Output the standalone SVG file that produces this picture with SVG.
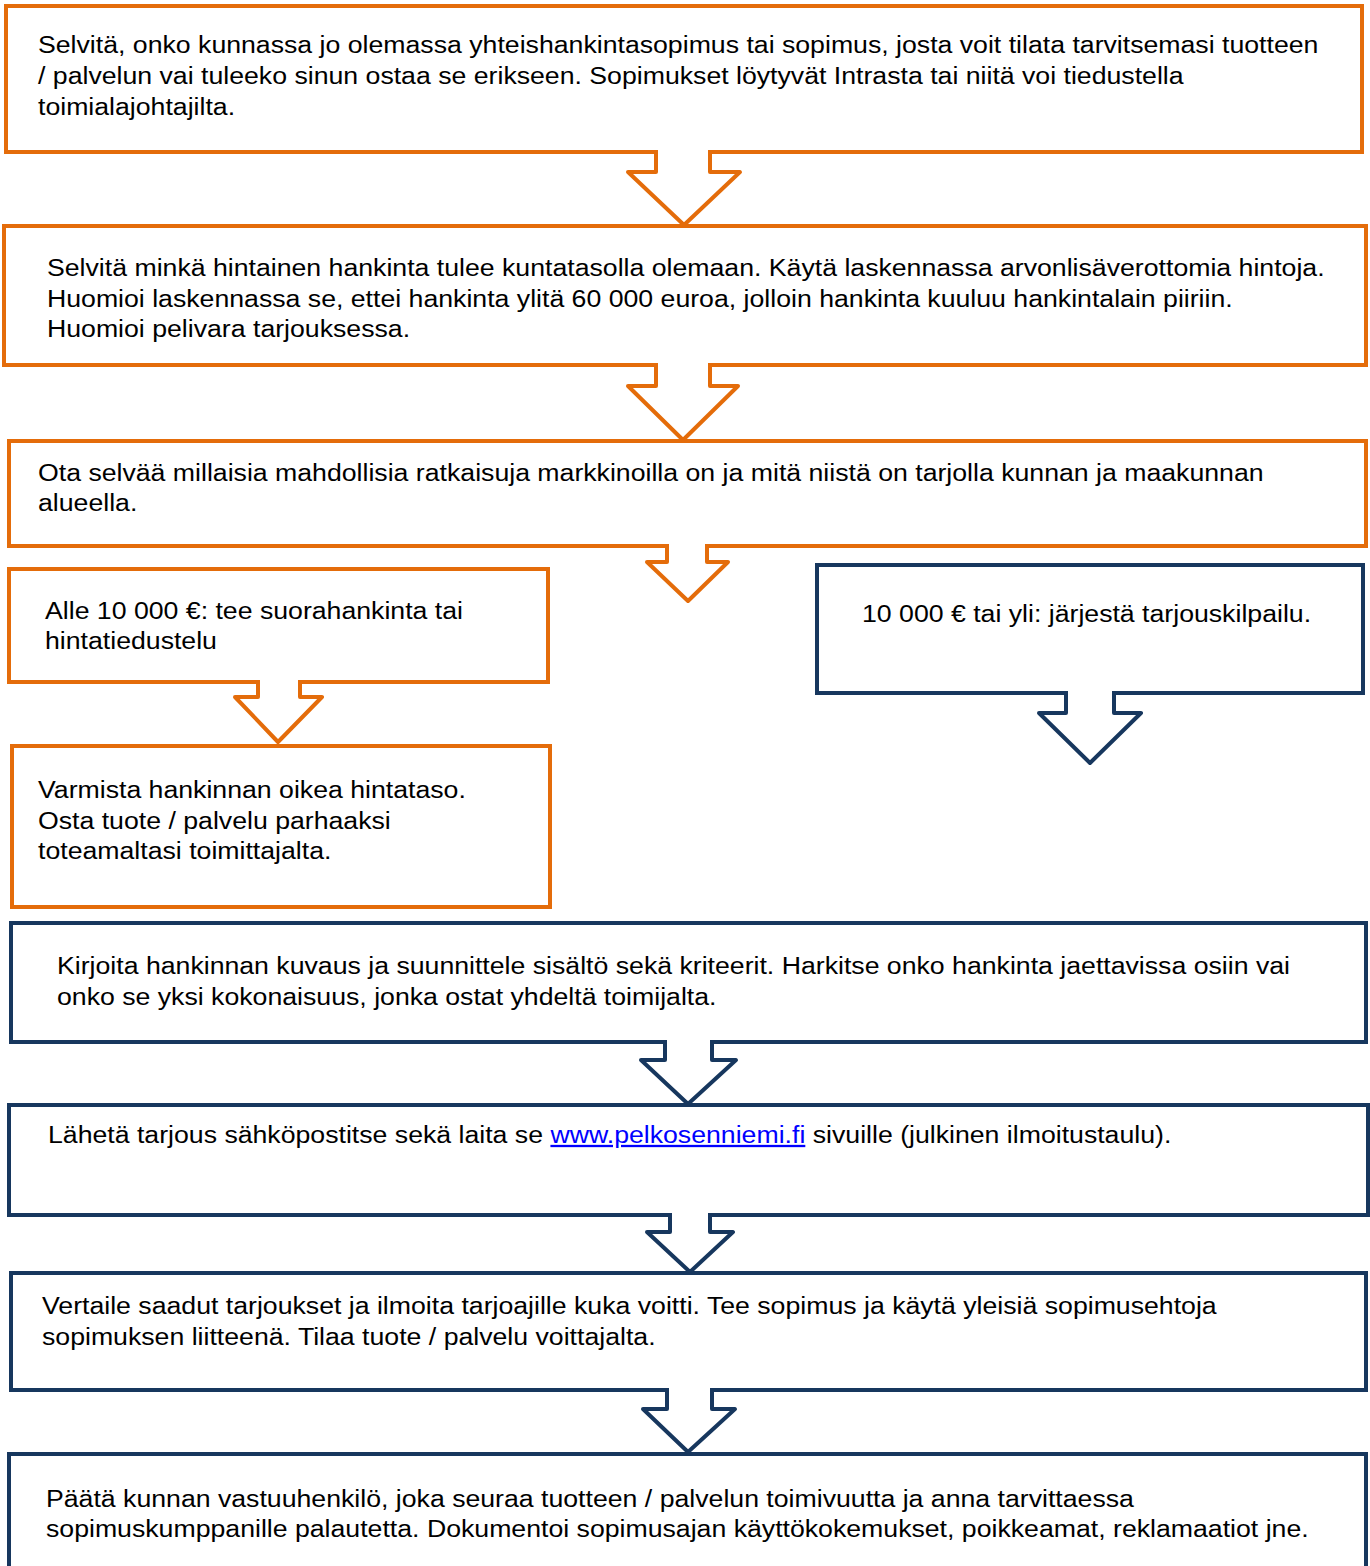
<svg xmlns="http://www.w3.org/2000/svg" width="1370" height="1566" viewBox="0 0 1370 1566">
<style>
.o{fill:#fff;stroke:#E46C0A;stroke-width:4}
.n{fill:#fff;stroke:#17375E;stroke-width:4}
.ao{fill:#fff;stroke:#E46C0A;stroke-width:4;stroke-linejoin:round}
.an{fill:#fff;stroke:#17375E;stroke-width:4;stroke-linejoin:round}
text{font-family:"Liberation Sans",Arial,sans-serif;font-size:23px;fill:#000}
.lnk{fill:#0000FF;text-decoration:underline}
</style>
<rect width="1370" height="1566" fill="#fff"/>
<g id="n1"><rect class="o" x="6" y="6" width="1356" height="146"/>
<text transform="translate(38 53) scale(1.16 1)">Selvitä, onko kunnassa jo olemassa yhteishankintasopimus tai sopimus, josta voit tilata tarvitsemasi tuotteen</text>
<text transform="translate(38 84) scale(1.16 1)">/ palvelun vai tuleeko sinun ostaa se erikseen. Sopimukset löytyvät Intrasta tai niitä voi tiedustella</text>
<text transform="translate(38 115) scale(1.16 1)">toimialajohtajilta.</text></g>
<g id="n2"><rect class="o" x="4" y="226" width="1362" height="139"/>
<text transform="translate(47 276) scale(1.16 1)">Selvitä minkä hintainen hankinta tulee kuntatasolla olemaan. Käytä laskennassa arvonlisäverottomia hintoja.</text>
<text transform="translate(47 307) scale(1.16 1)">Huomioi laskennassa se, ettei hankinta ylitä 60 000 euroa, jolloin hankinta kuuluu hankintalain piiriin.</text>
<text transform="translate(47 337) scale(1.16 1)">Huomioi pelivara tarjouksessa.</text></g>
<g id="n3"><rect class="o" x="9" y="441" width="1357" height="105"/>
<text transform="translate(38 481) scale(1.16 1)">Ota selvää millaisia mahdollisia ratkaisuja markkinoilla on ja mitä niistä on tarjolla kunnan ja maakunnan</text>
<text transform="translate(38 511) scale(1.16 1)">alueella.</text></g>
<g id="n4"><rect class="o" x="9" y="569" width="539" height="113"/>
<text transform="translate(45 619) scale(1.16 1)">Alle 10 000 €: tee suorahankinta tai</text>
<text transform="translate(45 649) scale(1.16 1)">hintatiedustelu</text></g>
<g id="n5"><rect class="o" x="12" y="746" width="538" height="161"/>
<text transform="translate(38 798) scale(1.16 1)">Varmista hankinnan oikea hintataso.</text>
<text transform="translate(38 829) scale(1.16 1)">Osta tuote / palvelu parhaaksi</text>
<text transform="translate(38 859) scale(1.16 1)">toteamaltasi toimittajalta.</text></g>
<g id="n6"><rect class="n" x="817" y="565" width="546" height="128"/>
<text transform="translate(862 622) scale(1.16 1)">10 000 € tai yli: järjestä tarjouskilpailu.</text></g>
<g id="n7"><rect class="n" x="11" y="923" width="1355" height="119"/>
<text transform="translate(57 974) scale(1.16 1)">Kirjoita hankinnan kuvaus ja suunnittele sisältö sekä kriteerit. Harkitse onko hankinta jaettavissa osiin vai</text>
<text transform="translate(57 1005) scale(1.16 1)">onko se yksi kokonaisuus, jonka ostat yhdeltä toimijalta.</text></g>
<g id="n8"><rect class="n" x="9" y="1105" width="1359" height="110"/>
<text transform="translate(48 1143) scale(1.16 1)">Lähetä tarjous sähköpostitse sekä laita se <tspan class="lnk">www.pelkosenniemi.fi</tspan> sivuille (julkinen ilmoitustaulu).</text></g>
<g id="n9"><rect class="n" x="11" y="1273" width="1355" height="117"/>
<text transform="translate(42 1314) scale(1.16 1)">Vertaile saadut tarjoukset ja ilmoita tarjoajille kuka voitti. Tee sopimus ja käytä yleisiä sopimusehtoja</text>
<text transform="translate(42 1345) scale(1.16 1)">sopimuksen liitteenä. Tilaa tuote / palvelu voittajalta.</text></g>
<g id="n10"><rect class="n" x="9" y="1454" width="1357" height="130"/>
<text transform="translate(46 1507) scale(1.16 1)">Päätä kunnan vastuuhenkilö, joka seuraa tuotteen / palvelun toimivuutta ja anna tarvittaessa</text>
<text transform="translate(46 1537) scale(1.16 1)">sopimuskumppanille palautetta. Dokumentoi sopimusajan käyttökokemukset, poikkeamat, reklamaatiot jne.</text></g>
<g id="connectors">
<path class="ao" d="M656 150 V172 H628 L684 225 L740 172 H710 V150"/>
<path class="ao" d="M656 363 V386 H628 L683 440 L738 386 H710 V363"/>
<path class="ao" d="M667 544 V562 H647 L688 601 L728 562 H707 V544"/>
<path class="ao" d="M258 680 V697 H235 L278 742 L322 697 H300 V680"/>
<path class="an" d="M1066 691 V713 H1039 L1090 763 L1141 713 H1114 V691"/>
<path class="an" d="M665 1040 V1060 H641 L688 1104 L736 1060 H712 V1040"/>
<path class="an" d="M670 1213 V1232 H647 L690 1272 L733 1232 H710 V1213"/>
<path class="an" d="M667 1388 V1409 H643 L688 1452 L735 1409 H712 V1388"/>
</g>
</svg>
